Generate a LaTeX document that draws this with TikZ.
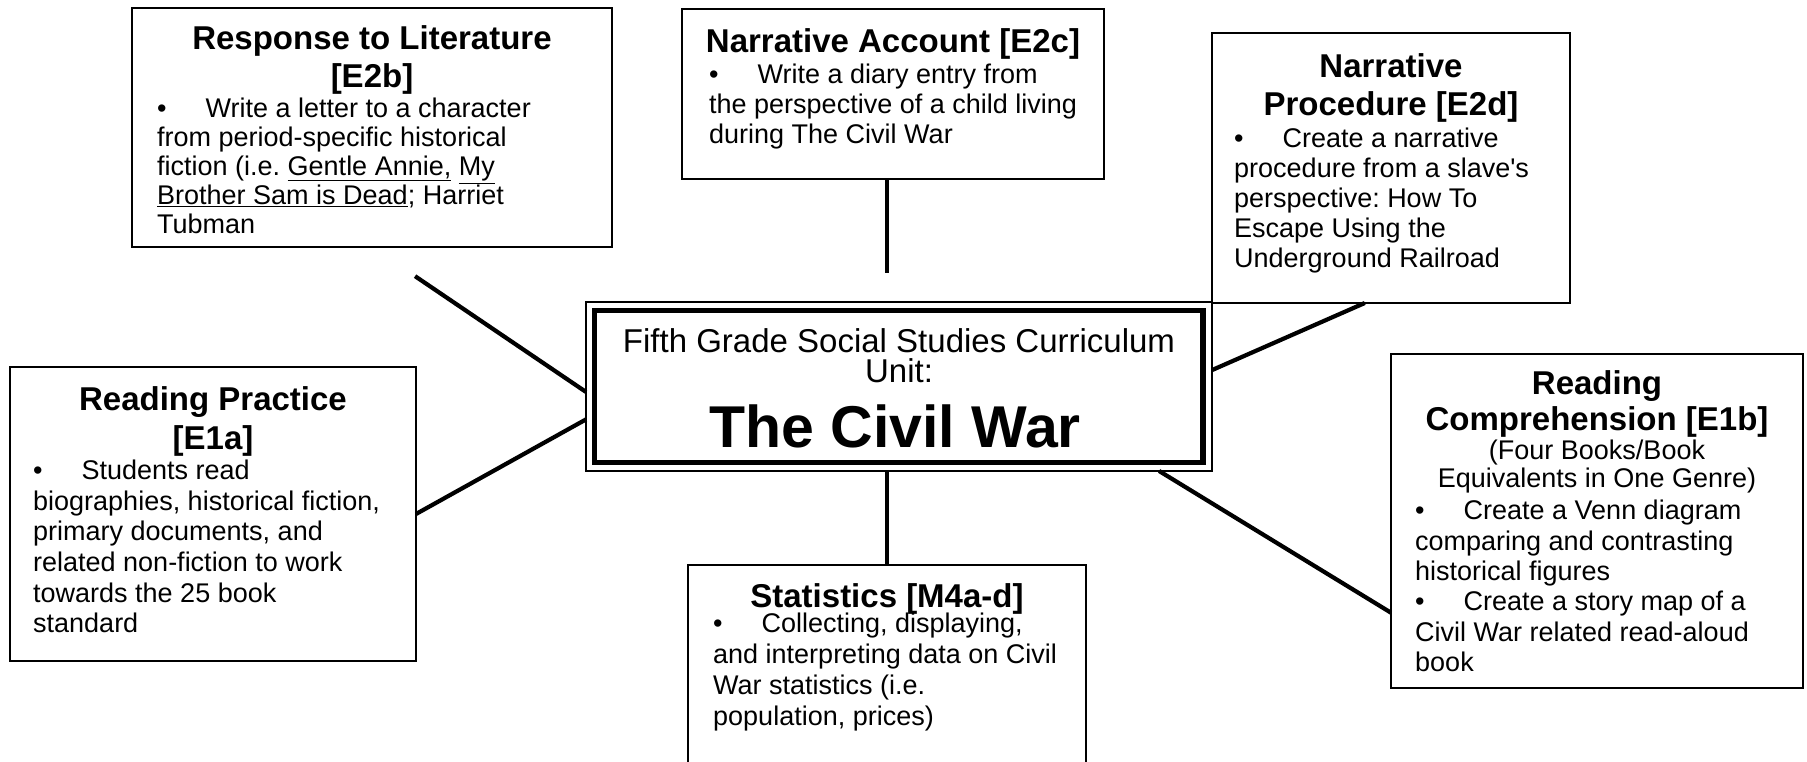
\documentclass[tikz,border=0pt]{standalone}
\usepackage{fontspec}
\setmainfont{Liberation Sans}
\usepackage{tikz}
\usetikzlibrary{positioning}
\tikzset{
  % Topic box
  TB/.style={rectangle,draw,line width=2.2pt,anchor=north west,
             inner sep=0pt,outer sep=0pt},
  % Box heading
  TH/.style={anchor=north,inner sep=0pt,align=center,
             font=\fontsize{33}{38}\selectfont\bfseries},
  % Box body text
  TX/.style={anchor=north west,inner sep=0pt,align=left,
             font=\fontsize{27}{30}\selectfont},
  % Connector
  lnk/.style={line width=4.2pt}
}

\begin{document}
\begin{tikzpicture}[x=1pt,y=-1pt]
  \useasboundingbox (0,0) rectangle (1807,761);
  \clip (0,0) rectangle (1807,761);

  % centre box
  \node[TB,line width=2pt,minimum width=626,minimum height=169] (central) at (586,302) {};
  \draw[line width=5.5pt] ([shift={(8.5pt,-8.5pt)}]central.north west) rectangle ([shift={(-9pt,8.5pt)}]central.south east);
  \node[TH,font=\fontsize{33}{30}\selectfont,below=26pt of central.north] (unit) {Fifth Grade Social Studies Curriculum\\Unit:};
  \node[TH,font=\fontsize{59}{60}\selectfont\bfseries,below=103pt of central.north,xshift=-4pt] (civil) {The Civil War};

  % topic boxes
  \node[TB,minimum width=480,minimum height=239] (resp) at (132,8) {};
  \node[TB,minimum width=422,minimum height=170] (acct) at (682,9) {};
  \node[TB,minimum width=358,minimum height=270] (proc) at (1212,33) {};
  \node[TB,minimum width=406,minimum height=294] (prac) at (10,367) {};
  \node[TB,minimum width=398,minimum height=260] (stat) at (688,565) {};
  \node[TB,minimum width=412,minimum height=334] (comp) at (1391,354) {};

  % texts
  \node[TH,below=17pt of resp.north] (respH) {Response to Literature\\{}[E2b]};
  \node[TX,font=\fontsize{27}{29}\selectfont,below right=90pt and 25pt of resp.north west] (respT)
    {\textbullet\hspace{39pt}Write a letter to a character\\
     from period-specific historical\\
     fiction (i.e.\ \underline{Gentle Annie,} \underline{My}\\
     \underline{Brother Sam is Dead}; Harriet\\
     Tubman};

  \node[TH,below=19pt of acct.north] (acctH) {Narrative Account [E2c]};
  \node[TX,below right=55pt and 27pt of acct.north west] (acctT)
    {\textbullet\hspace{39pt}Write a diary entry from\\
     the perspective of a child living\\
     during The Civil War};

  \node[TH,below=20pt of proc.north] (procH) {Narrative\\Procedure [E2d]};
  \node[TX,below right=95pt and 22pt of proc.north west] (procT)
    {\textbullet\hspace{39pt}Create a narrative\\
     procedure from a slave\textquotesingle s\\
     perspective:\ How To\\
     Escape Using the\\
     Underground Railroad};

  \node[TH,font=\fontsize{33}{39}\selectfont\bfseries,below=19pt of prac.north] (pracH) {Reading Practice\\{}[E1a]};
  \node[TX,font=\fontsize{27}{30.6}\selectfont,below right=93pt and 23pt of prac.north west] (pracT)
    {\textbullet\hspace{39pt}Students read\\
     biographies, historical fiction,\\
     primary documents, and\\
     related non-fiction to work\\
     towards the 25 book\\
     standard};

  \node[TH,below=18pt of stat.north] (statH) {Statistics [M4a-d]};
  \node[TX,font=\fontsize{27}{31}\selectfont,below right=48pt and 25pt of stat.north west] (statT)
    {\textbullet\hspace{39pt}Collecting, displaying,\\
     and interpreting data on Civil\\
     War statistics (i.e.\\
     population, prices)};

  \node[TH,font=\fontsize{33}{36}\selectfont\bfseries,below=16pt of comp.north] (compH) {Reading\\Comprehension [E1b]};
  \node[TX,align=center,font=\fontsize{27}{28}\selectfont,below=86pt of comp.north] (compS)
    {(Four Books/Book\\Equivalents in One Genre)};
  \node[TX,font=\fontsize{27}{30.4}\selectfont,below right=146pt and 24pt of comp.north west] (compT)
    {\textbullet\hspace{39pt}Create a Venn diagram\\
     comparing and contrasting\\
     historical figures\\
     \textbullet\hspace{39pt}Create a story map of a\\
     Civil War related read-aloud\\
     book};

  % connectors
  \draw[lnk,shorten <=52pt] (resp.south) -- (central.181);
  \draw[lnk] (prac.east) -- (central.186);
  \draw[lnk,shorten >=29pt] (stat.north |- acct.south) -- (stat.north |- central.north);
  \draw[lnk] (proc.259) -- (central.3);
  \draw[lnk] (central.342) -- (comp.204);
  \draw[lnk] (stat.north |- central.south) -- (stat.north);
\end{tikzpicture}
\end{document}
